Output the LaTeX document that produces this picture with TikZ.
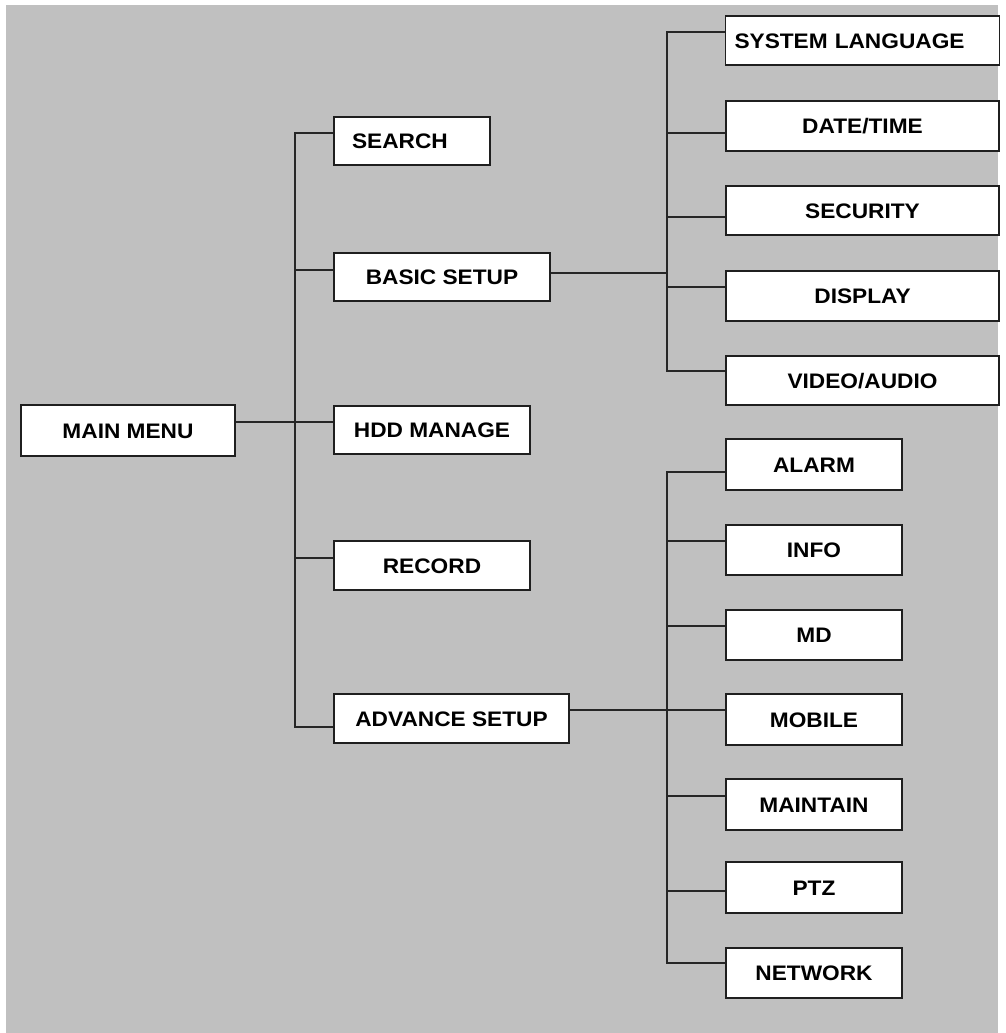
\documentclass[tikz,border=0pt]{standalone}
\usepackage{fontspec}
\setmainfont{Liberation Sans}[FakeStretch=1.08]
\begin{document}
\begin{tikzpicture}[x=0.75pt,y=-0.75pt,
  box/.style={draw=black!88, line width=1.4pt, fill=white, inner sep=0pt,
    font=\fontsize{15.75}{18}\selectfont\bfseries, text=black,
    text height=11.3pt, text depth=0pt, align=center},
  conn/.style={draw=black!85, line width=1.4pt, line join=miter}]
\newcommand\mybox[7][]{\node[box,#1, minimum width={(#5-#3)*0.75pt}, minimum height={(#6-#4)*0.75pt}] (#2) at ({(#3+#5)/2},{(#4+#6)/2}) {#7};}
\useasboundingbox (0,0) rectangle (1006,1033);
\fill[white] (0,0) rectangle (1006,1033);
\fill[fill={rgb,255:red,192;green,192;blue,192}] (6,5) rectangle (998,1033);
% trunk coordinates
\coordinate (t1s) at (295,133);
\coordinate (t1b) at (295,270);
\coordinate (t1h) at (295,422);
\coordinate (t1r) at (295,558);
\coordinate (t1a) at (295,727);
\coordinate (t2a) at (667,32);
\coordinate (t2b) at (667,133);
\coordinate (t2c) at (667,217);
\coordinate (t2m) at (667,273);
\coordinate (t2d) at (667,287);
\coordinate (t2e) at (667,371);
\coordinate (t3a) at (667,472);
\coordinate (t3b) at (667,541);
\coordinate (t3c) at (667,626);
\coordinate (t3d) at (667,710);
\coordinate (t3e) at (667,796);
\coordinate (t3f) at (667,891);
\coordinate (t3g) at (667,963);
% boxes
\mybox{main}{21}{405}{235}{456}{MAIN MENU}
\mybox[text width=90pt, inner xsep=13.5pt, align=left]{search}{334}{117}{490}{165}{SEARCH}
\mybox{basic}{334}{253}{550}{301}{BASIC SETUP}
\mybox{hdd}{334}{406}{530}{454}{HDD MANAGE}
\mybox{record}{334}{541}{530}{590}{RECORD}
\mybox{advance}{334}{694}{569}{743}{ADVANCE SETUP}
\mybox[text width=192pt, inner xsep=6.75pt, align=left]{syslang}{726}{16}{999}{65}{SYSTEM LANGUAGE}
\mybox{datetime}{726}{101}{999}{151}{DATE/TIME}
\mybox{security}{726}{186}{999}{235}{SECURITY}
\mybox{display}{726}{271}{999}{321}{DISPLAY}
\mybox{video}{726}{356}{999}{405}{VIDEO/AUDIO}
\mybox{alarm}{726}{439}{902}{490}{ALARM}
\mybox{info}{726}{525}{902}{575}{INFO}
\mybox{md}{726}{610}{902}{660}{MD}
\mybox{mobile}{726}{694}{902}{745}{MOBILE}
\mybox{maintain}{726}{779}{902}{830}{MAINTAIN}
\mybox{ptz}{726}{862}{902}{913}{PTZ}
\mybox{network}{726}{948}{902}{998}{NETWORK}
% connectors level 1
\draw[conn] (search.west |- t1s) -- (t1s) -- (t1a) -- (advance.west |- t1a);
\draw[conn] (t1b) -- (basic.west |- t1b);
\draw[conn] (main.east |- t1h) -- (hdd.west |- t1h);
\draw[conn] (t1r) -- (record.west |- t1r);
% connectors basic setup
\draw[conn] (basic.east |- t2m) -- (t2m);
\draw[conn] (syslang.west |- t2a) -- (t2a) -- (t2e) -- (video.west |- t2e);
\draw[conn] (t2b) -- (datetime.west |- t2b);
\draw[conn] (t2c) -- (security.west |- t2c);
\draw[conn] (t2d) -- (display.west |- t2d);
% connectors advance setup
\draw[conn] (advance.east |- t3d) -- (mobile.west |- t3d);
\draw[conn] (alarm.west |- t3a) -- (t3a) -- (t3g) -- (network.west |- t3g);
\draw[conn] (t3b) -- (info.west |- t3b);
\draw[conn] (t3c) -- (md.west |- t3c);
\draw[conn] (t3e) -- (maintain.west |- t3e);
\draw[conn] (t3f) -- (ptz.west |- t3f);
\end{tikzpicture}
\end{document}
